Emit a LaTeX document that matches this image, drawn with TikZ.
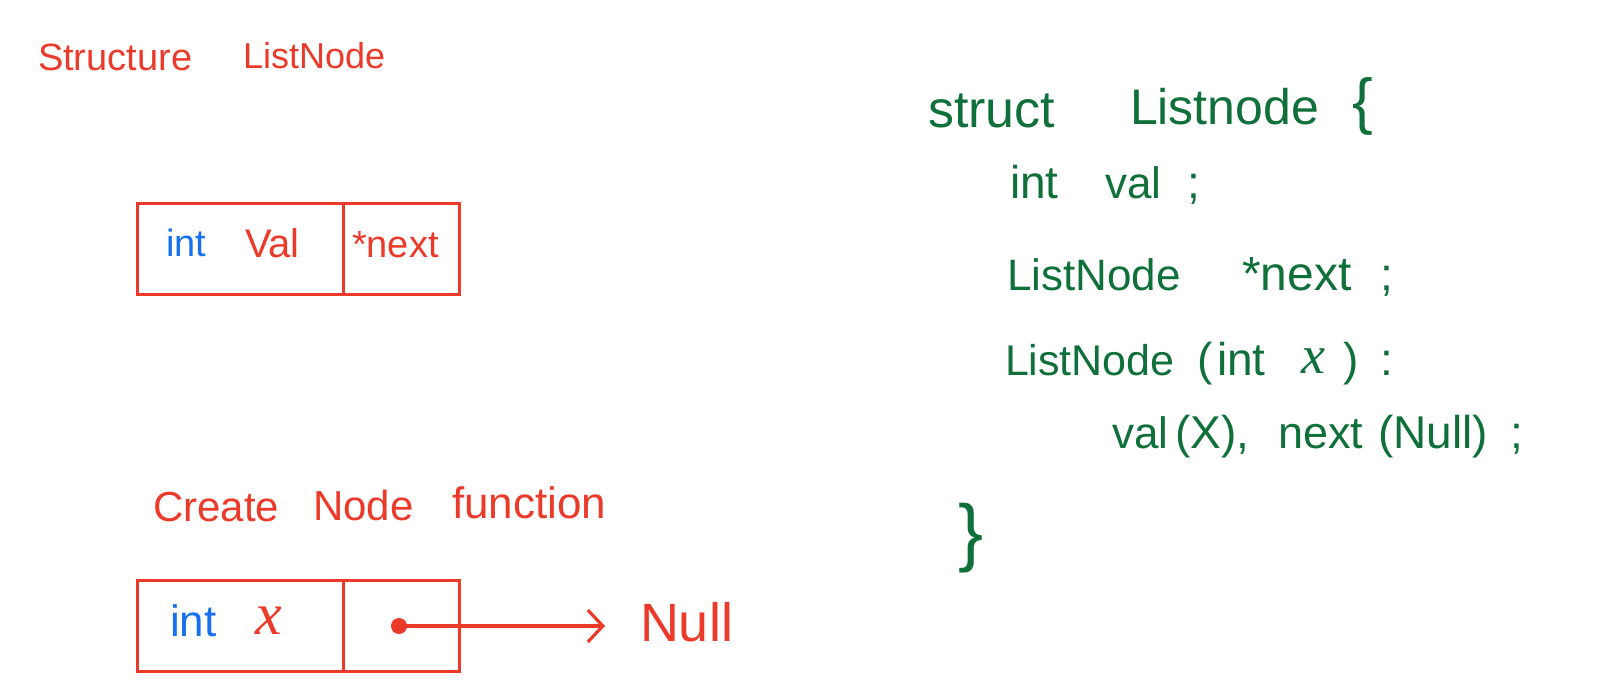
\documentclass[tikz,border=0pt]{standalone}
\usepackage{fontspec}
\setmainfont{Liberation Sans}
\newfontfamily\serifx{Liberation Serif}
\usetikzlibrary{arrows.meta}
\newcommand\setfs[1]{\fontsize{#1}{#1}\selectfont}
\definecolor{hred}{RGB}{236,58,42}
\definecolor{hblue}{RGB}{22,112,240}
\definecolor{hgreen}{RGB}{16,112,58}
\tikzset{
  txt/.style={anchor=base west, inner sep=0pt, outer sep=0pt},
  redtxt/.style={txt, text=hred},
  bluetxt/.style={txt, text=hblue},
  codetxt/.style={txt, text=hgreen},
  cell/.style={draw=hred, line width=3pt, rectangle, inner sep=0pt, minimum height=91pt},
  ptr/.style={draw=hred, line width=3.2pt, -{Straight Barb[length=15pt,width=32pt]}},
}
\begin{document}
\begin{tikzpicture}[x=1pt,y=-1pt]
\useasboundingbox (0,0) rectangle (1623,686);
% header
\node[redtxt, font=\setfs{38}] (h1) at (38,70) {Structure};
\node[redtxt, font=\setfs{36}] (h2) at (243,68) {ListNode};
% box 1
\node[cell, minimum width=206pt] (c1a) at (240,248.5) {};
\node[cell, minimum width=116pt] (c1b) at (401,248.5) {};
\node[bluetxt, font=\setfs{38}] (t1) at (166,256) {int};
\node[redtxt, font=\setfs{40}] (t2) at (245,257) {Val};
\node[redtxt, font=\setfs{38}] (t3) at (352,257) {*next};
% create node function
\node[redtxt, font=\setfs{42}] (f1) at (153,521) {Create};
\node[redtxt, font=\setfs{42}] (f2) at (313,520) {Node};
\node[redtxt, font=\setfs{44}] (f3) at (452,518) {function};
% box 2
\node[cell, minimum width=206pt] (c2a) at (240,625.5) {};
\node[cell, minimum width=116pt] (c2b) at (401,625.5) {};
\node[bluetxt, font=\setfs{44}] (t4) at (170,636) {int};
\node[redtxt, font=\serifx\itshape\setfs{60}] (t5) at (255,634) {x};
\node[circle, fill=hred, inner sep=0pt, minimum size=16pt] (dot) at (399,626) {};
\coordinate (tip) at (605,626);
\draw[ptr] (dot.center) -- (tip);
\node[redtxt, font=\setfs{54}] (null) at (640,641) {Null};
% code
\node[codetxt, font=\setfs{52}] (k1) at (928,127) {struct};
\node[codetxt, font=\setfs{50}] (k2) at (1130,124) {Listnode};
\node[codetxt, font=\setfs{62}] (k3) at (1352,122) {\{};
\node[codetxt, font=\setfs{46}] (k4) at (1010,198) {int};
\node[codetxt, font=\setfs{44}] (k5) at (1105,198) {val};
\node[codetxt, font=\setfs{46}] (k6) at (1187,198) {;};
\node[codetxt, font=\setfs{44}] (k7) at (1007,290) {ListNode};
\node[codetxt, font=\setfs{48}] (k8) at (1242,290) {*next};
\node[codetxt, font=\setfs{46}] (k9) at (1380,290) {;};
\node[codetxt, font=\setfs{43}] (k10) at (1005,375) {ListNode};
\node[codetxt, font=\setfs{46}] (k11) at (1197,375) {(};
\node[codetxt, font=\setfs{46}] (k12) at (1217,375) {int};
\node[codetxt, font=\serifx\itshape\setfs{54}] (k13) at (1301,373) {x};
\node[codetxt, font=\setfs{46}] (k14) at (1343,375) {)};
\node[codetxt, font=\setfs{46}] (k15) at (1380,375) {:};
\node[codetxt, font=\setfs{44}] (k16) at (1112,448) {val};
\node[codetxt, font=\setfs{46}] (k17) at (1175,448) {(X),};
\node[codetxt, font=\setfs{45}] (k18) at (1278,448) {next};
\node[codetxt, font=\setfs{46}] (k19) at (1378,448) {(Null)};
\node[codetxt, font=\setfs{46}] (k20) at (1510,448) {;};
\node[codetxt, font=\setfs{75}] (k21) at (958,557) {\}};
\end{tikzpicture}
\end{document}
